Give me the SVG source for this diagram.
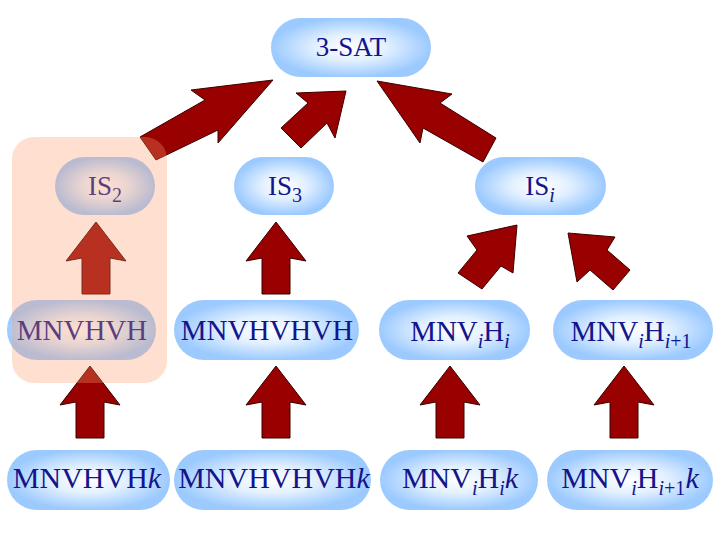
<svg xmlns="http://www.w3.org/2000/svg" xmlns:xlink="http://www.w3.org/1999/xlink" width="720" height="540" viewBox="0 0 720 540">
<defs>
<radialGradient id="pill" cx="0.5" cy="0.5" r="0.5">
<stop offset="0" stop-color="#ffffff"/>
<stop offset="0.45" stop-color="#e2f0ff"/>
<stop offset="1" stop-color="#9ccaff"/>
</radialGradient>
<polygon id="up" points="0,0 30,39 14,36 14,72 -14,72 -14,36 -30,39"/>
</defs>
<style>
.pill{fill:url(#pill);}
.t{font-family:"Liberation Serif","Times New Roman",serif;fill:#14148c;text-anchor:middle;}
.big{font-size:30px;}
.mid{font-size:29px;}
.top{font-size:27px;}
.sub{font-size:20px;font-style:italic;}
.subr{font-size:20px;}
.it{font-style:italic;}
.arr{fill:#990000;stroke:#3a0000;stroke-width:1;stroke-linejoin:round;}
</style>
<rect width="720" height="540" fill="#ffffff"/>
<g id="connectors">
<polygon class="arr" points="273,80 191,90 205,100 140,137 156,160 218,130 218,143"/>
<polygon class="arr" points="346,91 296,93 308,103 281,128 301,148 327,123 335,138"/>
<polygon class="arr" points="377,81 452,94 440,103 496,138 483,162 423,128 420,143"/>
<polygon class="arr" points="517,225 467,236 477,250 458,273 482,289 501,266 513,273"/>
<polygon class="arr" points="568,233 615,237 607,250 630,270 613,290 590,270 577,282"/>
<use xlink:href="#up" class="arr" x="96" y="222"/>
<use xlink:href="#up" class="arr" x="276" y="222"/>
<use xlink:href="#up" class="arr" x="90" y="366"/>
<use xlink:href="#up" class="arr" x="276" y="366"/>
<use xlink:href="#up" class="arr" x="450" y="366"/>
<use xlink:href="#up" class="arr" x="624" y="366"/>
</g>
<g id="n-3sat">
<rect class="pill" x="271" y="18" width="160" height="59" rx="29.5"/>
<text class="t top" x="351" y="56">3-SAT</text>
</g>
<g id="n-is2">
<rect class="pill" x="55" y="157" width="100" height="58" rx="29"/>
<text class="t top" x="105" y="195">IS<tspan class="subr" dy="7">2</tspan></text>
</g>
<g id="n-is3">
<rect class="pill" x="234" y="157" width="100" height="58" rx="29"/>
<text class="t top" x="285" y="195">IS<tspan class="subr" dy="7">3</tspan></text>
</g>
<g id="n-isi">
<rect class="pill" x="475" y="157" width="131" height="58" rx="29"/>
<text class="t top" x="540" y="195">IS<tspan class="sub" dy="7">i</tspan></text>
</g>
<g id="n-mnvhvh">
<rect class="pill" x="7" y="300" width="149" height="60" rx="30"/>
<text class="t mid" x="82" y="340">MNVHVH</text>
</g>
<g id="n-mnvhvhvh">
<rect class="pill" x="174" y="300" width="185" height="60" rx="30"/>
<text class="t mid" x="267" y="340">MNVHVHVH</text>
</g>
<g id="n-mnvihi">
<rect class="pill" x="379" y="300" width="151" height="60" rx="30"/>
<text class="t mid" x="460" y="341">MNV<tspan class="sub" dy="7">i</tspan><tspan dy="-7">H</tspan><tspan class="sub" dy="7">i</tspan></text>
</g>
<g id="n-mnvihi1">
<rect class="pill" x="553" y="300" width="160" height="60" rx="30"/>
<text class="t mid" x="631" y="341">MNV<tspan class="sub" dy="7">i</tspan><tspan dy="-7">H</tspan><tspan class="sub" dy="7">i</tspan><tspan class="subr">+1</tspan></text>
</g>
<g id="n-mnvhvhk">
<rect class="pill" x="7" y="450" width="163" height="60" rx="30"/>
<text class="t big" x="87" y="488">MNVHVH<tspan class="it">k</tspan></text>
</g>
<g id="n-mnvhvhvhk">
<rect class="pill" x="174" y="450" width="197" height="60" rx="30"/>
<text class="t big" x="274" y="488">MNVHVHVH<tspan class="it">k</tspan></text>
</g>
<g id="n-mnvihik">
<rect class="pill" x="380" y="450" width="158" height="60" rx="30"/>
<text class="t big" x="460" y="488">MNV<tspan class="sub" dy="7">i</tspan><tspan dy="-7">H</tspan><tspan class="sub" dy="7">i</tspan><tspan class="it" dy="-7">k</tspan></text>
</g>
<g id="n-mnvihi1k">
<rect class="pill" x="547" y="450" width="166" height="60" rx="30"/>
<text class="t big" x="630" y="488">MNV<tspan class="sub" dy="7">i</tspan><tspan dy="-7">H</tspan><tspan class="sub" dy="7">i</tspan><tspan class="subr">+1</tspan><tspan class="it" dy="-7">k</tspan></text>
</g>
<g id="highlight">
<rect x="12" y="137" width="155" height="246" rx="22" fill="#ff9b67" fill-opacity="0.31"/>
</g>
</svg>
